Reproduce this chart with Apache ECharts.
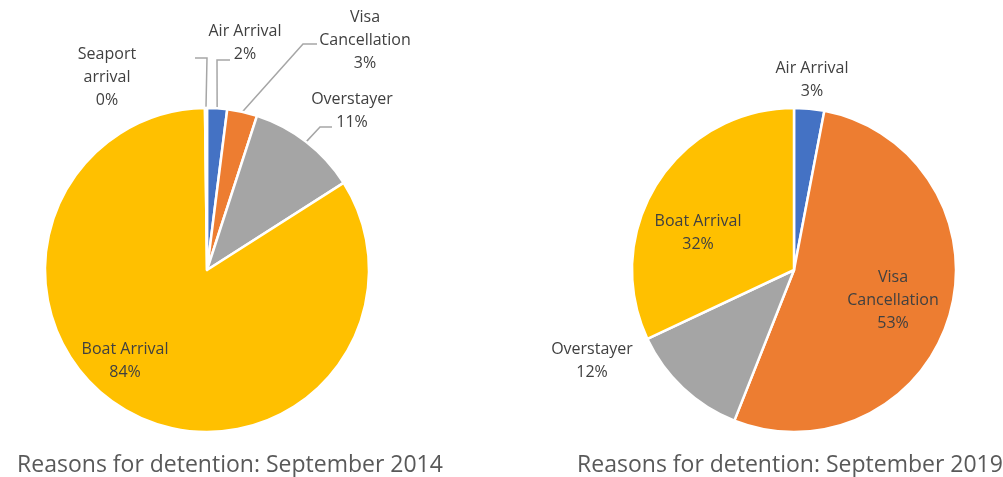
<!DOCTYPE html>
<html>
<head>
<meta charset="utf-8">
<title>Reasons for detention</title>
<script src="https://cdn.jsdelivr.net/npm/echarts@6/dist/echarts.min.js"></script>
<style>
html,body{margin:0;padding:0;background:#fff;}
#main{width:1003px;height:477px;}
</style>
</head>
<body>
<div id="main"></div>
<script type="text/javascript">
// data (percent of detainees)
var names2014 = ['Air Arrival', 'Visa Cancellation', 'Overstayer', 'Boat Arrival', 'Seaport arrival'];
var values2014 = [2, 3, 11, 84, 0.2];
var names2019 = ['Air Arrival', 'Visa Cancellation', 'Overstayer', 'Boat Arrival'];
var values2019 = [3, 53, 12, 32];
var titles = ['Reasons for detention: September 2014', 'Reasons for detention: September 2019'];

var colors = {
	'Air Arrival': '#4472C4',
	'Visa Cancellation': '#ED7D31',
	'Overstayer': '#A5A5A5',
	'Boat Arrival': '#FFC000',
	'Seaport arrival': '#5B9BD5'
};
// label box centres, [series][dataIndex]
var labelPos = [
	[[245, 43], [365, 40], [352, 111], [125, 361], [107, 77]],
	[[812, 80], [893, 300], [592, 361], [698, 233]]
];
// leader line elbow + end, left pie only
var linePts = [
	[[[217, 60], [230, 60]], [[303, 44], [317, 44]], [[320, 127], [332, 127]], null, [[207, 58], [195, 58]]],
	[null, null, null, null]
];
var insideLabels = { 0: ['Boat Arrival'], 1: ['Visa Cancellation', 'Boat Arrival'] };
var lineLabels = { 0: true, 1: false };

function makeData(names, values, s) {
	var out = [];
	for (var i = 0; i < names.length; i++) {
		out.push({
			name: names[i],
			value: values[i],
			itemStyle: { color: colors[names[i]] },
			label: { position: insideLabels[s].indexOf(names[i]) >= 0 ? 'inside' : 'outside' },
			labelLine: { show: lineLabels[s] && insideLabels[s].indexOf(names[i]) < 0 }
		});
	}
	return out;
}

function labelName(n) {
	if (n == 'Visa Cancellation') return 'Visa\nCancellation';
	if (n == 'Seaport arrival') return 'Seaport\narrival';
	return n;
}

var myChart = echarts.init(document.getElementById('main'));
var baseSeries = {
	type: 'pie',
	radius: 162,
	startAngle: 90,
	clockwise: true,
	animation: false,
	percentPrecision: 0,
	itemStyle: { borderColor: '#fff', borderWidth: 2.5 },
	label: {
		color: '#404040',
		fontFamily: 'Open Sans',
		fontSize: 16,
		lineHeight: 23,
		align: 'center',
		formatter: function (p) { return labelName(p.name) + '\n' + p.percent + '%'; }
	},
	labelLine: { lineStyle: { color: '#A6A6A6', width: 1.5 }, length: 20, length2: 10, smooth: false },
	labelLayout: function (params) {
		var p = labelPos[params.seriesIndex][params.dataIndex];
		var res = { x: p[0], y: p[1], align: 'center', verticalAlign: 'middle' };
		var lp = linePts[params.seriesIndex][params.dataIndex];
		if (lp && params.labelLinePoints) {
			res.labelLinePoints = [params.labelLinePoints[0], lp[0], lp[1]];
		}
		return res;
	},
	emphasis: { disabled: true }
};

var option = {
	backgroundColor: '#fff',
	title: [
		{ text: titles[0], left: 225, top: 449, textAlign: 'center',
		  textStyle: { color: '#595959', fontFamily: 'Open Sans', fontSize: 23, fontWeight: 'normal' } },
		{ text: titles[1], left: 785, top: 449, textAlign: 'center',
		  textStyle: { color: '#595959', fontFamily: 'Open Sans', fontSize: 23, fontWeight: 'normal' } }
	],
	series: [
		echarts.util.merge({ center: [207, 270], data: makeData(names2014, values2014, 0) }, baseSeries),
		echarts.util.merge({ center: [794, 270], data: makeData(names2019, values2019, 1) }, baseSeries)
	]
};
myChart.setOption(option);
</script>
</body>
</html>
